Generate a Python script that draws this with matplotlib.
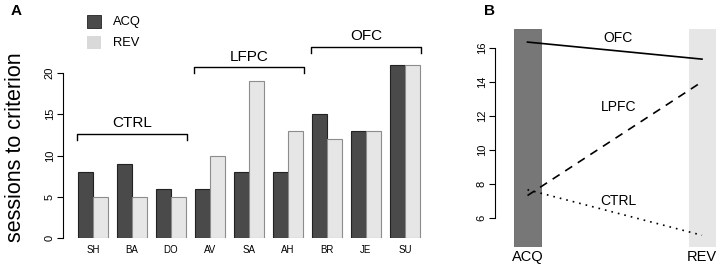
import matplotlib
matplotlib.use("Agg")
import matplotlib.pyplot as plt
from matplotlib.patches import Rectangle

plt.rcParams['font.family'] = ['Liberation Sans', 'DejaVu Sans']

# ---- data ----
subjects = ["SH", "BA", "DO", "AV", "SA", "AH", "BR", "JE", "SU"]
acq = [8, 9, 6, 6, 8, 8, 15, 13, 21]
rev = [5, 5, 5, 10, 19, 13, 12, 13, 21]
groups = ["CTRL", "LFPC", "OFC"]
group_members = [(0, 2), (3, 5), (6, 8)]
bracket_heights = [12.6, 20.7, 23.2]

phases = ["ACQ", "REV"]
means_ctrl = [7.67, 5.0]
means_lpfc = [7.33, 14.0]
means_ofc = [16.33, 15.33]

W, H = 725, 276
fig = plt.figure(figsize=(W / 100, H / 100), dpi=100)

def ax_px(left, top, right, bottom):
    return fig.add_axes([left / W, 1 - bottom / H, (right - left) / W, (bottom - top) / H])

dark = "#4a4a4a"
light = "#e6e6e6"

# ---- Panel A ----
axA = ax_px(63, 40, 435, 238)
x = list(range(len(subjects)))
bw = 0.385
axA.bar([i - 0.2 for i in x], acq, width=bw, color=dark, edgecolor="#222222", linewidth=0.8)
axA.bar([i + 0.2 for i in x], rev, width=bw, color=light, edgecolor="#8c8c8c", linewidth=0.8)
axA.set_xlim((63 - 93) / 39, (435 - 93) / 39)
axA.set_ylim(0, 24)
for s in ["top", "right", "bottom"]:
    axA.spines[s].set_visible(False)
axA.spines["left"].set_bounds(0, 20)
axA.spines["left"].set_linewidth(0.8)
axA.set_yticks([0, 5, 10, 15, 20])
axA.set_yticklabels(["0", "5", "10", "15", "20"], rotation=90, va="center", fontsize=8)
axA.tick_params(axis="y", length=4, width=0.8, pad=2)
axA.set_xticks(x)
axA.set_xticklabels(subjects, fontsize=7)
axA.tick_params(axis="x", length=0, pad=5)
fig.text(16 / W, 1 - 147 / H, "sessions to criterion", fontsize=15.5, rotation=90,
         ha="center", va="center")

for g, (a, b), h in zip(groups, group_members, bracket_heights):
    x0 = a - 0.4
    x1 = b + 0.4
    axA.plot([x0, x0, x1, x1], [h - 0.75, h, h, h - 0.75], color="black", lw=1.0, clip_on=False)
    axA.text((x0 + x1) / 2, h + 0.45, g, ha="center", va="bottom", fontsize=11)

# legend
fig.patches.append(Rectangle((87 / W, 1 - 28 / H), 14 / W, 13 / H, transform=fig.transFigure,
                             facecolor=dark, edgecolor="#222222", lw=0.6))
fig.patches.append(Rectangle((87 / W, 1 - 49 / H), 14 / W, 13 / H, transform=fig.transFigure,
                             facecolor="#d9d9d9", edgecolor="none"))
fig.text(113 / W, 1 - 22 / H, "ACQ", fontsize=9.3, va="center")
fig.text(113 / W, 1 - 43 / H, "REV", fontsize=9.3, va="center")
fig.text(11 / W, 1 - 11 / H, "A", fontsize=11, fontweight="bold", va="center")

# ---- Panel B ----
axB = ax_px(495, 29, 716, 247)
axB.set_xlim(1 - 32.5 / 174.5, 2 + 14 / 174.5)
ylo = 16 - (247 - 47.7) / 17.05
yhi = 16 + (47.7 - 29) / 17.05
axB.set_ylim(ylo, yhi)
rw = 27 / 174.5
axB.add_patch(Rectangle((1 - rw / 2, ylo), rw, yhi - ylo, facecolor="#777777", edgecolor="#666666", lw=0.6))
axB.add_patch(Rectangle((2 - rw / 2, ylo), rw, yhi - ylo, facecolor="#e6e6e6", edgecolor="none"))
axB.plot([1, 2], means_ofc, color="black", lw=1.2, ls="-")
axB.plot([1, 2], means_lpfc, color="black", lw=1.2, ls=(0, (5, 4)))
axB.plot([1, 2], means_ctrl, color="black", lw=1.2, ls=(0, (1, 3)))
axB.text(1.52, 16.55, "OFC", ha="center", va="center", fontsize=10)
axB.text(1.52, 12.5, "LPFC", ha="center", va="center", fontsize=10)
axB.text(1.52, 7.0, "CTRL", ha="center", va="center", fontsize=10)
for s in ["top", "right", "bottom"]:
    axB.spines[s].set_visible(False)
axB.spines["left"].set_bounds(6, 16)
axB.spines["left"].set_linewidth(0.8)
axB.set_yticks([6, 8, 10, 12, 14, 16])
axB.set_yticklabels(["6", "8", "10", "12", "14", "16"], rotation=90, va="center", fontsize=8)
axB.tick_params(axis="y", length=4, width=0.8, pad=2)
axB.set_xticks([1, 2])
axB.set_xticklabels(phases, fontsize=10.5)
axB.tick_params(axis="x", length=0, pad=2)
fig.text(484 / W, 1 - 11 / H, "B", fontsize=11, fontweight="bold", va="center")

fig.savefig("out.png", dpi=100)
